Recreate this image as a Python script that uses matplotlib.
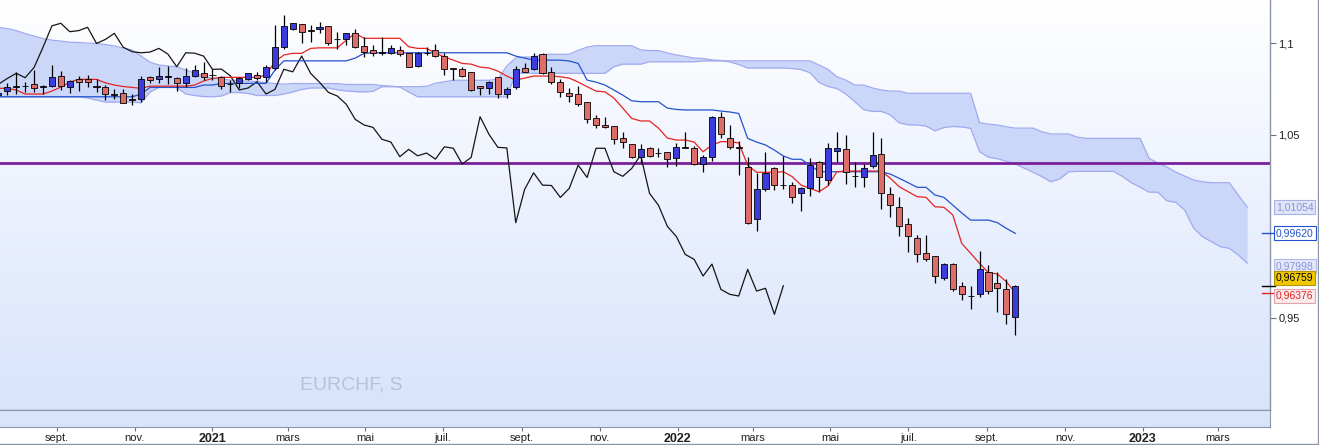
import numpy as np
import pandas as pd
import matplotlib
matplotlib.use('Agg')
import matplotlib.pyplot as plt
from matplotlib import transforms
from matplotlib.lines import Line2D
from matplotlib.colors import LinearSegmentedColormap

plt.rcParams['font.family'] = ['Liberation Sans', 'DejaVu Sans']

# weekly EURCHF candles, the last one is the week ending 23 Sep 2022
last_week = pd.Timestamp('2022-09-23')

opens = [1.0716, 1.0738, 1.0762, 1.0765, 1.0775, 1.0762, 1.0767, 1.0822, 1.0758, 1.0804,
         1.0802, 1.0765, 1.0758, 1.0720, 1.0729, 1.0694, 1.0693, 1.0813, 1.0805, 1.0816,
         1.0807, 1.0783, 1.0820, 1.0838, 1.0825, 1.0816, 1.0776, 1.0780, 1.0802, 1.0824,
         1.0813, 1.0862, 1.0977, 1.1076, 1.1104, 1.1071, 1.1075, 1.1093, 1.1022, 1.1022,
         1.1053, 1.0984, 1.0962, 1.0945, 1.0947, 1.0962, 1.0944, 1.0876, 1.0947, 1.0962,
         1.0929, 1.0865, 1.0857, 1.0840, 1.0764, 1.0753, 1.0816, 1.0720, 1.0758, 1.0862,
         1.0857, 1.0938, 1.0843, 1.0789, 1.0726, 1.0720, 1.0677, 1.0589, 1.0551, 1.0547,
         1.0480, 1.0447, 1.0380, 1.0426, 1.0402, 1.0404, 1.0371, 1.0434, 1.0426, 1.0340,
         1.0380, 1.0598, 1.0480, 1.0431, 1.0322, 1.0038, 1.0202, 1.0320, 1.0225, 1.0224,
         1.0182, 1.0207, 1.0349, 1.0251, 1.0412, 1.0420, 1.0274, 1.0267, 1.0329, 1.0394,
         1.0175, 1.0104, 1.0011, 0.9936, 0.9853, 0.9838, 0.9716, 0.9794, 0.9674, 0.9621,
         0.9629, 0.9751, 0.9691, 0.9656, 0.9507]
highs = [1.0744, 1.0780, 1.0843, 1.0789, 1.0853, 1.0771, 1.0880, 1.0847, 1.0798, 1.0820,
         1.0825, 1.0804, 1.0771, 1.0747, 1.0747, 1.0720, 1.0820, 1.0820, 1.0871, 1.0875,
         1.0813, 1.0862, 1.0880, 1.0898, 1.0857, 1.0820, 1.0798, 1.0813, 1.0838, 1.0843,
         1.0880, 1.1098, 1.1153, 1.1111, 1.1104, 1.1098, 1.1116, 1.1093, 1.1062, 1.1056,
         1.1075, 1.1031, 1.0989, 1.1031, 1.0989, 1.0984, 1.0944, 1.0953, 1.0977, 1.0993,
         1.0944, 1.0865, 1.0871, 1.0840, 1.0767, 1.0794, 1.0816, 1.0758, 1.0875, 1.0889,
         1.0944, 1.0944, 1.0867, 1.0802, 1.0753, 1.0765, 1.0677, 1.0607, 1.0598, 1.0547,
         1.0516, 1.0447, 1.0449, 1.0434, 1.0429, 1.0407, 1.0453, 1.0516, 1.0438, 1.0389,
         1.0602, 1.0625, 1.0553, 1.0465, 1.0380, 1.0292, 1.0404, 1.0324, 1.0384, 1.0242,
         1.0213, 1.0371, 1.0356, 1.0453, 1.0514, 1.0498, 1.0351, 1.0338, 1.0514, 1.0480,
         1.0213, 1.0158, 1.0044, 0.9953, 0.9951, 0.9838, 0.9798, 0.9798, 0.9698, 0.9674,
         0.9865, 0.9789, 0.9749, 0.9711, 0.9680]
lows = [1.0705, 1.0716, 1.0720, 1.0734, 1.0734, 1.0720, 1.0762, 1.0744, 1.0726, 1.0740,
        1.0758, 1.0734, 1.0689, 1.0693, 1.0671, 1.0660, 1.0680, 1.0780, 1.0780, 1.0776,
        1.0740, 1.0758, 1.0813, 1.0798, 1.0798, 1.0747, 1.0734, 1.0753, 1.0798, 1.0798,
        1.0789, 1.0853, 1.0966, 1.1071, 1.1002, 1.1007, 1.1053, 1.0989, 1.0966, 1.0989,
        1.0971, 1.0925, 1.0929, 1.0935, 1.0940, 1.0929, 1.0871, 1.0871, 1.0935, 1.0925,
        1.0825, 1.0798, 1.0813, 1.0740, 1.0716, 1.0720, 1.0698, 1.0698, 1.0747, 1.0840,
        1.0853, 1.0831, 1.0775, 1.0704, 1.0680, 1.0658, 1.0565, 1.0535, 1.0535, 1.0449,
        1.0426, 1.0374, 1.0345, 1.0380, 1.0380, 1.0325, 1.0329, 1.0426, 1.0334, 1.0298,
        1.0358, 1.0480, 1.0422, 1.0280, 1.0013, 0.9974, 1.0194, 1.0198, 1.0204, 1.0129,
        1.0085, 1.0165, 1.0189, 1.0225, 1.0352, 1.0229, 1.0216, 1.0216, 1.0316, 1.0096,
        1.0049, 0.9945, 0.9861, 0.9804, 0.9809, 0.9692, 0.9707, 0.9649, 0.9598, 0.9550,
        0.9613, 0.9631, 0.9531, 0.9467, 0.9407]
closes = [1.0727, 1.0758, 1.0764, 1.0768, 1.0753, 1.0764, 1.0813, 1.0767, 1.0793, 1.0786,
          1.0786, 1.0763, 1.0720, 1.0717, 1.0671, 1.0692, 1.0802, 1.0798, 1.0822, 1.0819,
          1.0780, 1.0820, 1.0853, 1.0813, 1.0828, 1.0765, 1.0775, 1.0807, 1.0835, 1.0811,
          1.0867, 1.0977, 1.1094, 1.1108, 1.1062, 1.1068, 1.1086, 1.0998, 1.1020, 1.1053,
          1.0977, 1.0953, 1.0947, 1.0951, 1.0971, 1.0940, 1.0871, 1.0947, 1.0945, 1.0929,
          1.0857, 1.0858, 1.0822, 1.0744, 1.0755, 1.0789, 1.0722, 1.0747, 1.0857, 1.0843,
          1.0929, 1.0835, 1.0786, 1.0731, 1.0711, 1.0666, 1.0584, 1.0553, 1.0540, 1.0475,
          1.0460, 1.0380, 1.0420, 1.0385, 1.0400, 1.0367, 1.0434, 1.0426, 1.0340, 1.0376,
          1.0598, 1.0502, 1.0431, 1.0428, 1.0020, 1.0202, 1.0292, 1.0225, 1.0223, 1.0158,
          1.0207, 1.0334, 1.0267, 1.0426, 1.0426, 1.0298, 1.0273, 1.0316, 1.0389, 1.0180,
          1.0115, 1.0000, 0.9945, 0.9847, 0.9820, 0.9729, 0.9794, 0.9656, 0.9629, 0.9620,
          0.9765, 0.9647, 0.9662, 0.9520, 0.96759]

# ichimoku lines
tenkan = [1.0753, 1.0753, 1.0744, 1.0722, 1.0722, 1.0722, 1.0738, 1.0760, 1.0787, 1.0802,
          1.0802, 1.0802, 1.0783, 1.0771, 1.0763, 1.0758, 1.0753, 1.0765, 1.0765, 1.0765,
          1.0765, 1.0765, 1.0771, 1.0793, 1.0807, 1.0813, 1.0813, 1.0813, 1.0813, 1.0813,
          1.0825, 1.0898, 1.0935, 1.0944, 1.0944, 1.0971, 1.0974, 1.0974, 1.0974, 1.1016,
          1.1053, 1.1026, 1.1026, 1.1026, 1.1026, 1.1026, 1.0980, 1.0971, 1.0971, 1.0945,
          1.0924, 1.0907, 1.0889, 1.0885, 1.0869, 1.0864, 1.0847, 1.0820, 1.0798, 1.0809,
          1.0820, 1.0820, 1.0820, 1.0816, 1.0809, 1.0787, 1.0762, 1.0738, 1.0734, 1.0700,
          1.0645, 1.0589, 1.0575, 1.0575, 1.0536, 1.0482, 1.0471, 1.0471, 1.0460, 1.0407,
          1.0444, 1.0462, 1.0462, 1.0455, 1.0334, 1.0295, 1.0295, 1.0295, 1.0298, 1.0271,
          1.0225, 1.0207, 1.0189, 1.0220, 1.0298, 1.0302, 1.0302, 1.0302, 1.0302, 1.0302,
          1.0262, 1.0216, 1.0189, 1.0162, 1.0158, 1.0107, 1.0104, 1.0062, 0.9907, 0.9853,
          0.9798, 0.9747, 0.9740, 0.9698, 0.96376]
kijun = [1.0707, 1.0707, 1.0707, 1.0707, 1.0707, 1.0707, 1.0707, 1.0707, 1.0707, 1.0707,
         1.0707, 1.0707, 1.0707, 1.0707, 1.0707, 1.0707, 1.0722, 1.0758, 1.0758, 1.0758,
         1.0758, 1.0758, 1.0758, 1.0771, 1.0771, 1.0780, 1.0780, 1.0780, 1.0780, 1.0780,
         1.0780, 1.0853, 1.0903, 1.0903, 1.0903, 1.0903, 1.0903, 1.0903, 1.0903, 1.0903,
         1.0918, 1.0944, 1.0947, 1.0947, 1.0947, 1.0947, 1.0947, 1.0947, 1.0947, 1.0947,
         1.0947, 1.0947, 1.0947, 1.0947, 1.0947, 1.0947, 1.0947, 1.0947, 1.0929, 1.0918,
         1.0907, 1.0907, 1.0907, 1.0907, 1.0902, 1.0889, 1.0798, 1.0787, 1.0771, 1.0744,
         1.0716, 1.0685, 1.0680, 1.0680, 1.0680, 1.0645, 1.0638, 1.0635, 1.0635, 1.0635,
         1.0635, 1.0629, 1.0624, 1.0616, 1.0480, 1.0460, 1.0444, 1.0416, 1.0384, 1.0366,
         1.0366, 1.0334, 1.0298, 1.0298, 1.0298, 1.0298, 1.0298, 1.0298, 1.0298, 1.0298,
         1.0285, 1.0262, 1.0238, 1.0213, 1.0213, 1.0171, 1.0158, 1.0116, 1.0073, 1.0034,
         1.0034, 1.0034, 1.0020, 0.9989, 0.99620]
# senkou spans, already placed 26 weeks ahead (141 points)
span_a = [1.0707, 1.0707, 1.0707, 1.0707, 1.0707, 1.0707, 1.0707, 1.0707, 1.0707, 1.0707,
          1.0700, 1.0689, 1.0678, 1.0678, 1.0678, 1.0678, 1.0674, 1.0733, 1.0758, 1.0758,
          1.0758, 1.0722, 1.0714, 1.0708, 1.0707, 1.0711, 1.0730, 1.0730, 1.0725, 1.0714,
          1.0714, 1.0714, 1.0722, 1.0733, 1.0747, 1.0755, 1.0755, 1.0755, 1.0745, 1.0739,
          1.0735, 1.0733, 1.0737, 1.0762, 1.0762, 1.0762, 1.0762, 1.0762, 1.0764, 1.0781,
          1.0789, 1.0797, 1.0797, 1.0797, 1.0797, 1.0797, 1.0803, 1.0875, 1.0919, 1.0924,
          1.0924, 1.0937, 1.0939, 1.0939, 1.0939, 1.0960, 1.0978, 1.0986, 1.0986, 1.0986,
          1.0986, 1.0986, 1.0963, 1.0959, 1.0959, 1.0946, 1.0935, 1.0927, 1.0918, 1.0916,
          1.0908, 1.0905, 1.0897, 1.0883, 1.0864, 1.0864, 1.0864, 1.0864, 1.0864, 1.0861,
          1.0855, 1.0838, 1.0785, 1.0763, 1.0752, 1.0722, 1.0681, 1.0637, 1.0627, 1.0627,
          1.0608, 1.0564, 1.0554, 1.0553, 1.0547, 1.0521, 1.0539, 1.0545, 1.0542, 1.0535,
          1.0407, 1.0377, 1.0369, 1.0355, 1.0340, 1.0318, 1.0295, 1.0271, 1.0243, 1.0259,
          1.0298, 1.0300, 1.0300, 1.0300, 1.0300, 1.0300, 1.0273, 1.0239, 1.0213, 1.0187,
          1.0186, 1.0139, 1.0131, 1.0089, 0.9990, 0.9943, 0.9916, 0.9889, 0.9880, 0.9844,
          0.97998]
span_b = [1.1086, 1.1079, 1.1068, 1.1052, 1.1038, 1.1025, 1.1016, 1.1011, 1.1005, 1.1003,
          1.1000, 1.0998, 1.0992, 1.0984, 1.0973, 1.0962, 1.0929, 1.0896, 1.0880, 1.0875,
          1.0871, 1.0853, 1.0836, 1.0820, 1.0807, 1.0804, 1.0798, 1.0795, 1.0793, 1.0790,
          1.0784, 1.0779, 1.0776, 1.0779, 1.0779, 1.0779, 1.0779, 1.0779, 1.0779, 1.0774,
          1.0774, 1.0774, 1.0774, 1.0768, 1.0765, 1.0760, 1.0733, 1.0707, 1.0707, 1.0707,
          1.0707, 1.0707, 1.0707, 1.0707, 1.0707, 1.0707, 1.0707, 1.0707, 1.0835, 1.0835,
          1.0835, 1.0835, 1.0835, 1.0835, 1.0835, 1.0835, 1.0835, 1.0835, 1.0835, 1.0871,
          1.0885, 1.0885, 1.0885, 1.0898, 1.0898, 1.0898, 1.0898, 1.0898, 1.0898, 1.0903,
          1.0903, 1.0903, 1.0903, 1.0903, 1.0903, 1.0903, 1.0903, 1.0903, 1.0903, 1.0903,
          1.0903, 1.0903, 1.0880, 1.0857, 1.0816, 1.0798, 1.0771, 1.0771, 1.0755, 1.0744,
          1.0738, 1.0738, 1.0726, 1.0726, 1.0726, 1.0726, 1.0726, 1.0726, 1.0726, 1.0726,
          1.0565, 1.0558, 1.0553, 1.0543, 1.0536, 1.0536, 1.0536, 1.0516, 1.0504, 1.0504,
          1.0504, 1.0486, 1.0480, 1.0480, 1.0480, 1.0480, 1.0480, 1.0480, 1.0480, 1.0371,
          1.0345, 1.0324, 1.0296, 1.0274, 1.0253, 1.0243, 1.0238, 1.0238, 1.0238, 1.0171,
          1.01054]
chikou_shift = 26
level = 1.0345

tick_dates = ['2020-09-01', '2020-11-01', '2021-01-01', '2021-03-01', '2021-05-01',
              '2021-07-01', '2021-09-01', '2021-11-01', '2022-01-01', '2022-03-01',
              '2022-05-01', '2022-07-01', '2022-09-01', '2022-11-01', '2023-01-01',
              '2023-03-01']
tick_labels = ['sept.', 'nov.', '2021', 'mars', 'mai', 'juil.', 'sept.', 'nov.', '2022',
               'mars', 'mai', 'juil.', 'sept.', 'nov.', '2023', 'mars']

W, H = 1319, 445
fig = plt.figure(figsize=(W / 100, H / 100), dpi=100)
fig.patch.set_facecolor('white')
ax = fig.add_axes([0, 35 / H, 1270 / W, 410 / H])
strip = fig.add_axes([0, 18 / H, 1270 / W, 17 / H])

xlim = (0.18, 142.56)
ylim = (0.8998, 1.1235)

# background gradient
bg = LinearSegmentedColormap.from_list('bg', ['#ffffff', '#d8e3fc'])
ax.imshow(np.linspace(0, 1, 256).reshape(-1, 1), aspect='auto', cmap=bg,
          extent=[xlim[0], xlim[1], ylim[0], ylim[1]], zorder=0)

n = len(closes)
idx = np.arange(n)
o, hi, lo, c = map(np.array, (opens, highs, lows, closes))

# cloud
cx = np.arange(len(span_a))
ax.fill_between(cx, span_a, span_b, color='#cad7f9', lw=0, zorder=1)
ax.plot(cx, span_a, color='#a2aaef', lw=0.9, zorder=1.5)
ax.plot(cx, span_b, color='#a2aaef', lw=0.9, zorder=1.5)

ax.axhline(level, color='#7b1f9c', lw=2.0, zorder=2)

ax.plot(idx - chikou_shift, closes, color='#151515', lw=0.9, zorder=3)
ax.plot(idx, kijun, color='#2352cc', lw=0.9, zorder=3)
ax.plot(idx, tenkan, color='#e52420', lw=0.9, zorder=3)

# candles
up = c >= o
colors = np.where(up, '#3c3cdc', '#dc6d68')
ax.vlines(idx, lo, hi, color='black', lw=0.9, zorder=4)
body_lo = np.minimum(o, c)
body_h = np.maximum(np.abs(c - o), 0.00025)
ax.bar(idx, body_h, bottom=body_lo, width=0.68, color=colors,
       edgecolor='black', linewidth=0.6, zorder=5)

ax.text(0.2764, 0.061, 'EURCHF, S', transform=ax.transAxes, ha='center', va='center',
        fontsize=14, color='#b9c1d9')

ax.set_xlim(*xlim)
ax.set_ylim(*ylim)
for s in ('top', 'left'):
    ax.spines[s].set_visible(False)
for s in ('right', 'bottom'):
    ax.spines[s].set_color('#8a96a6')
    ax.spines[s].set_linewidth(1)
ax.yaxis.tick_right()
ax.set_yticks([0.95, 1.05, 1.1])
ax.set_yticklabels(['0,95', '1,05', '1,1'])
ax.tick_params(axis='y', length=4, width=0.8, color='#707070', labelsize=8, pad=2,
               labelcolor='#202020')
ax.tick_params(axis='x', bottom=False, labelbottom=False)

# value boxes on the right axis
tr = transforms.blended_transform_factory(ax.transAxes, ax.transData)
boxes = [(span_b[-1], 0, '#e0e6f8', '#a8b0e6', '#8a90e0'),
         (kijun[-1], 0, 'white', '#2352cc', '#2352cc'),
         (span_a[-1], -3, '#e4e9f8', '#b2b9e8', '#8a90e0'),
         (closes[-1], 8, '#f0c800', '#b89400', 'black'),
         (tenkan[-1], -3, '#fbe9ec', '#e3a4ab', '#e52420')]
for val, dy, fc, ec, tc in boxes:
    t = transforms.offset_copy(tr, fig=fig, x=0, y=dy, units='dots')
    ax.text(1.0045, val, f'{val:.5f}'.replace('.', ','), transform=t, ha='left',
            va='center', fontsize=7.5, color=tc, clip_on=False, zorder=10,
            bbox=dict(boxstyle='square,pad=0.2', fc=fc, ec=ec, lw=0.8))
for val, col in [(closes[-1], 'black'), (tenkan[-1], '#e52420'), (kijun[-1], '#2352cc')]:
    ax.add_line(Line2D([0.994, 1.004], [val, val], transform=tr, color=col, lw=1,
                       clip_on=False, zorder=9))

# bottom strip with the date axis
strip.set_facecolor('#d8e3fc')
strip.set_xlim(*xlim)
strip.set_yticks([])
for s in strip.spines.values():
    s.set_color('#8a96a6')
strip.spines['left'].set_visible(False)
pos = [n - 1 - (last_week - pd.Timestamp(d)).days / 7 for d in tick_dates]
strip.set_xticks(pos)
strip.set_xticklabels(tick_labels)
strip.tick_params(axis='x', length=3, width=0.8, color='#707070', labelsize=8, pad=1,
                  labelcolor='#202020')
for lbl in strip.get_xticklabels():
    if lbl.get_text().isdigit():
        lbl.set_fontweight('bold')
        lbl.set_fontsize(9)

# outer frame lines
fig.add_artist(Line2D([1317.5 / W, 1317.5 / W], [0, 1], color='#8a96a6', lw=1))
fig.add_artist(Line2D([0, 1], [1.5 / H, 1.5 / H], color='#8a96a6', lw=1))

fig.savefig('out.png', dpi=100)
